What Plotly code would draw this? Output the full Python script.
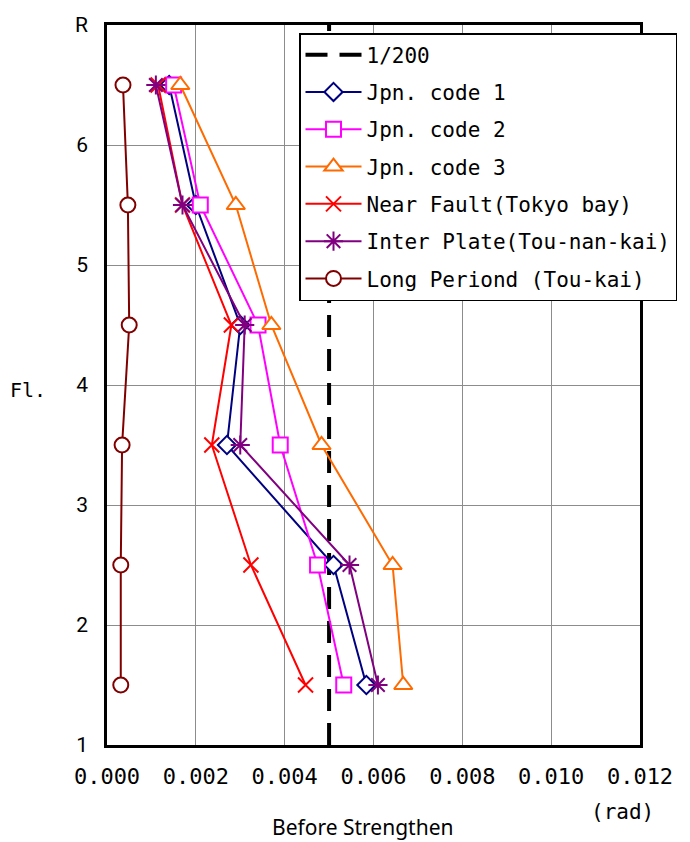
import plotly.graph_objects as go

floors = [1.5, 2.5, 3.5, 4.5, 5.5, 6.5]
jpn_code_1 = [0.00584, 0.00510, 0.00270, 0.00300, 0.00200, 0.00140]
jpn_code_2 = [0.00533, 0.00474, 0.00390, 0.00340, 0.00210, 0.00150]
jpn_code_3 = [0.00667, 0.00643, 0.00483, 0.00370, 0.00290, 0.00165]
near_fault = [0.00447, 0.00324, 0.00236, 0.00280, 0.00170, 0.00115]
inter_plate = [0.00610, 0.00546, 0.00300, 0.00310, 0.00170, 0.00110]
long_period = [0.00031, 0.00031, 0.00034, 0.00050, 0.00047, 0.00036]
limit_x = [0.005, 0.005]
limit_y = [1, 7]

x_ticks = [0, 0.002, 0.004, 0.006, 0.008, 0.010, 0.012]
x_tick_text = ["0.000", "0.002", "0.004", "0.006", "0.008", "0.010", "0.012"]
y_ticks = [1, 2, 3, 4, 5, 6, 7]
y_tick_text = ["1", "2", "3", "4", "5", "6", "R"]

series = [
    ("Jpn. code 1", jpn_code_1, "#000080", "diamond", 14),
    ("Jpn. code 2", jpn_code_2, "#FF00FF", "square", 15),
    ("Jpn. code 3", jpn_code_3, "#FF6A00", "triangle-up", 16),
    ("Near Fault(Tokyo bay)", near_fault, "#FF0000", "x-thin", 15),
    ("Inter Plate(Tou-nan-kai)", inter_plate, "#800080", "asterisk", 16),
    ("Long Periond (Tou-kai)", long_period, "#800000", "circle", 15),
]

mono = "DejaVu Sans Mono"

fig = go.Figure()
fig.add_trace(go.Scatter(
    x=limit_x, y=limit_y, mode="lines", name="1/200",
    line=dict(color="black", width=4, dash="22px,12px"),
    legendgroup="g0",
))
for i, (name, vals, col, sym, sz) in enumerate(series):
    fig.add_trace(go.Scatter(
        x=vals, y=floors, mode="lines+markers", name=name,
        line=dict(color=col, width=2),
        marker=dict(symbol=sym, size=sz, color="white",
                    line=dict(color=col, width=2)),
        legendgroup=f"g{i+1}",
    ))

plot_w = 690 - 107 - 50
plot_h = 842 - 25 - 97

fig.update_layout(
    width=690, height=842,
    margin=dict(l=107, r=50, t=25, b=97),
    plot_bgcolor="white", paper_bgcolor="white",
    font=dict(family=mono, size=20, color="black"),
    showlegend=True,
    legend=dict(
        x=(299 - 107) / plot_w, y=(745 - 33) / plot_h, xanchor="left", yanchor="top",
        bgcolor="white", bordercolor="black", borderwidth=1.5,
        font=dict(family=mono, size=21, color="black"),
        itemwidth=56, tracegroupgap=7,
        traceorder="grouped",
    ),
    xaxis=dict(
        range=[0, 0.012], tickvals=x_ticks, ticktext=x_tick_text,
        showgrid=True, gridcolor="#8c8c8c", gridwidth=1,
        showline=True, linecolor="black", linewidth=2.5, mirror=True,
        ticks="", zeroline=False, ticklabelstandoff=10,
        tickfont=dict(family=mono, size=22),
    ),
    yaxis=dict(
        range=[1, 7], tickvals=y_ticks, ticktext=y_tick_text,
        showgrid=True, gridcolor="#8c8c8c", gridwidth=1,
        showline=True, linecolor="black", linewidth=2.5, mirror=True,
        ticks="", zeroline=False, ticklabelstandoff=12,
        tickfont=dict(family="Roboto", size=21),
    ),
    annotations=[
        dict(text="Fl.", x=(28 - 107) / plot_w, y=(745 - 390) / plot_h,
             xref="paper", yref="paper", showarrow=False,
             xanchor="center", yanchor="middle",
             font=dict(family=mono, size=20)),
        dict(text="Before Strengthen", x=(362 - 107) / plot_w, y=(745 - 827) / plot_h,
             xref="paper", yref="paper", xanchor="center", yanchor="middle",
             showarrow=False, font=dict(family="Noto Sans", size=21)),
        dict(text="(rad)", x=(622 - 107) / plot_w, y=(745 - 812) / plot_h,
             xref="paper", yref="paper", xanchor="center", yanchor="middle",
             showarrow=False, font=dict(family=mono, size=21)),
    ],
)

fig.write_html("out.html")
